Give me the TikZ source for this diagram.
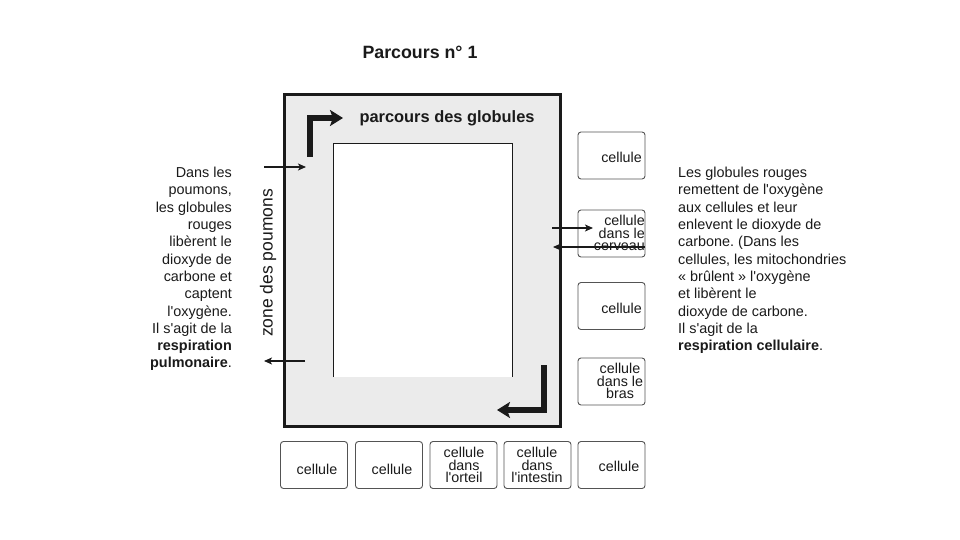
\documentclass[tikz,border=0pt]{standalone}
\usepackage{fontspec}
\setmainfont{Liberation Sans}
\newfontfamily\lib{Liberation Sans}
\usetikzlibrary{arrows.meta}
\definecolor{zonegray}{HTML}{EBEBEB}
\definecolor{ink}{HTML}{1A1A1A}
\frenchspacing
\begin{document}
\begin{tikzpicture}[x=1pt,y=-1pt,
  cellbox/.style={draw=ink!75, line width=0.9pt, rounded corners=3pt, minimum width=67pt, minimum height=47pt, inner sep=0pt},
  celltext/.style={font=\lib\fontsize{14.3}{12.8}\selectfont, inner sep=0pt, text=ink},
  bigarrow/.style={line width=6pt, ink, -{Stealth[length=13pt,width=16pt,inset=3pt]}},
  thinarrow/.style={line width=1.3pt, ink, -{Stealth[length=8pt,width=7pt,inset=2pt]}},
  bodytext/.style={font=\lib\fontsize{14.4}{17.3}\selectfont, inner sep=0pt, text=ink}
]
\useasboundingbox (0,0) rectangle (960,540);
\fill[white] (0,0) rectangle (960,540);

% title
\node[font=\lib\bfseries\fontsize{17.8}{20}\selectfont, text=ink] (title) at (420,52) {Parcours n° 1};

% zone box
\node[draw=ink, line width=3pt, fill=zonegray, minimum width=276pt, minimum height=331pt, inner sep=0pt] (zone) at (422,260.5) {};
\fill[white] (333,143) rectangle (512,377);
\draw[ink, line width=0.9pt] (333,377) -- (333,143) -- (512,143) -- (512,377);

\node[font=\lib\bfseries\fontsize{16.4}{18}\selectfont, text=ink, anchor=west] (glob) at (356,118) {parcours des globules};
\node[font=\lib\fontsize{17.5}{19}\selectfont, text=ink, rotate=90] (zonelbl) at (268,263) {zone des poumons};

% thick arrows
\coordinate (a1s) at (310,157);
\coordinate (a1c) at (310,118);
\coordinate (a1e) at (343,118);
\draw[bigarrow] (a1s) -- (a1c) -- (a1e);
\coordinate (a2s) at (544,365);
\coordinate (a2c) at (544,410);
\coordinate (a2e) at (497,410);
\draw[bigarrow] (a2s) -- (a2c) -- (a2e);

% left text
\node[bodytext, align=right, anchor=north east] (lefttext) at (232,167) {Dans les\\poumons,\\les globules\\rouges\\libèrent le\\dioxyde de\\carbone et\\captent\\l'oxygène.\\Il s'agit de la\\\textbf{respiration}\\\textbf{pulmonaire}.};

% left arrows
\coordinate (l1s) at (264,167);
\coordinate (l1e) at (306,167);
\draw[thinarrow] (l1s) -- (l1e);
\coordinate (l2s) at (305,361);
\coordinate (l2e) at (264,361);
\draw[thinarrow] (l2s) -- (l2e);

% right column cells
\node[cellbox] (r1) at (611.5,155.5) {};
\node[celltext, anchor=east] (r1t) at (642,157) {cellule};
\node[cellbox] (r2) at (611.5,233.5) {};
\node[celltext, align=right, anchor=east] (r2t) at (645,233) {cellule\\dans le\\cerveau};
\node[cellbox] (r3) at (611.5,306) {};
\node[celltext, anchor=east] (r3t) at (642,308) {cellule};
\node[cellbox] (r4) at (611.5,381.5) {};
\node[celltext, align=center] (r4t) at (620,381) {cellule\\dans le\\bras};

% arrows at brain cell
\coordinate (b1s) at (552,228);
\coordinate (b1e) at (593,228);
\draw[thinarrow] (b1s) -- (b1e);
\coordinate (b2s) at (645,247);
\coordinate (b2e) at (553,247);
\draw[thinarrow] (b2s) -- (b2e);

% bottom row cells
\node[cellbox] (d1) at (314,465) {};
\node[celltext] (d1t) at (317,469) {cellule};
\node[cellbox] (d2) at (389,465) {};
\node[celltext] (d2t) at (392,469) {cellule};
\node[cellbox] (d3) at (463.5,465) {};
\node[celltext, align=center] (d3t) at (464,465) {cellule\\dans\\l'orteil};
\node[cellbox] (d4) at (537.5,465) {};
\node[celltext, align=center] (d4t) at (537,465) {cellule\\dans\\l'intestin};
\node[cellbox] (d5) at (611.5,465) {};
\node[celltext] (d5t) at (619,466) {cellule};

% right text
\node[bodytext, align=left, anchor=north west] (righttext) at (678,167) {Les globules rouges\\remettent de l'oxygène\\aux cellules et leur\\enlevent le dioxyde de\\carbone. (Dans les\\cellules, les mitochondries\\« brûlent » l'oxygène\\et libèrent le\\dioxyde de carbone.\\Il s'agit de la\\\textbf{respiration cellulaire}.};
\end{tikzpicture}
\end{document}
